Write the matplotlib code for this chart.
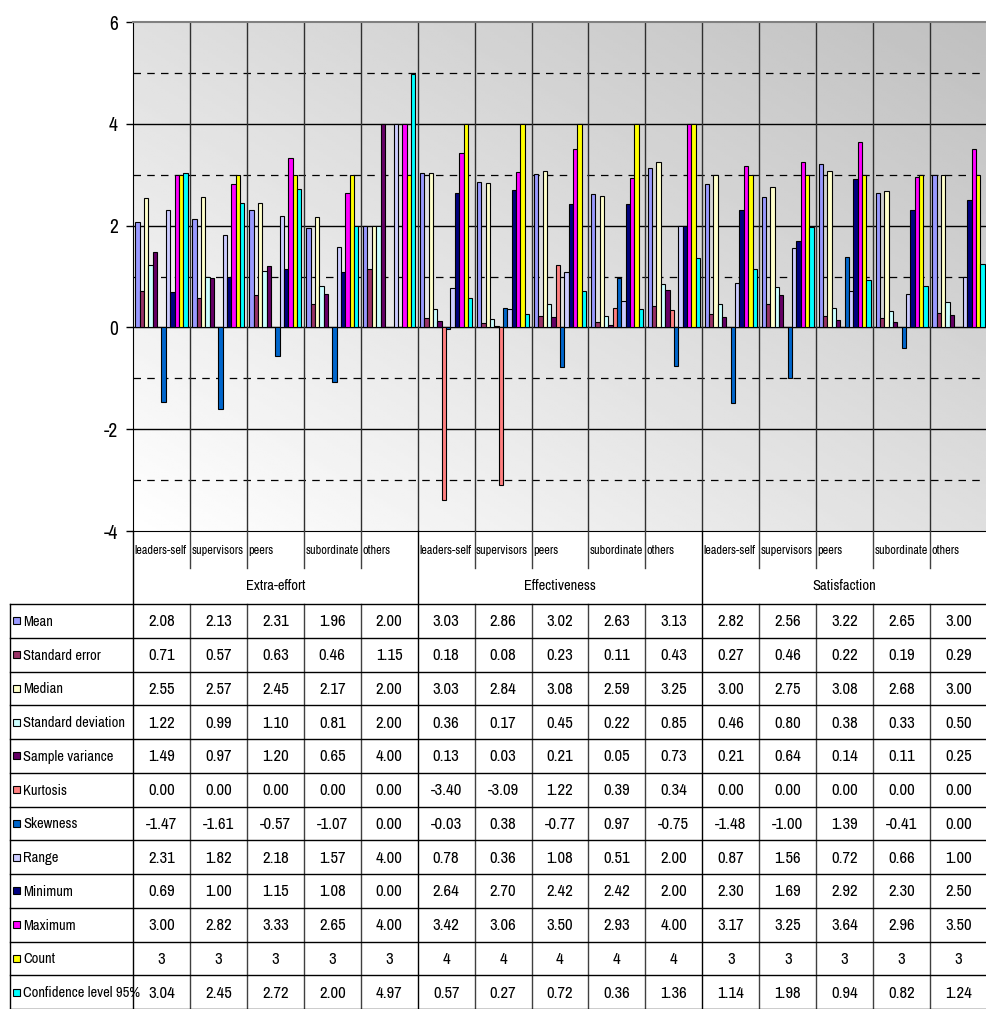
import numpy as np
import matplotlib.pyplot as plt
from matplotlib import font_manager
from matplotlib.patches import Rectangle
from matplotlib.transforms import blended_transform_factory

# Fuente estrecha tipo Arial Narrow si existe
instaladas = set(f.name for f in font_manager.fontManager.ttflist)
escala = 1.0
for fam in ['Liberation Sans Narrow', 'Archivo Narrow', 'Roboto Condensed']:
    if fam in instaladas:
        fuente = fam
        break
else:
    fuente = 'Liberation Sans'
    escala = 0.82
plt.rcParams['font.family'] = [fuente, 'DejaVu Sans']

grupos = ['Extra-effort', 'Effectiveness', 'Satisfaction']
categorias = ['leaders-self', 'supervisors', 'peers', 'subordinate', 'others'] * 3

series = ['Mean', 'Standard error', 'Median', 'Standard deviation', 'Sample variance',
          'Kurtosis', 'Skewness', 'Range', 'Minimum', 'Maximum', 'Count',
          'Confidence level 95%']

mean = [2.08, 2.13, 2.31, 1.96, 2.00, 3.03, 2.86, 3.02, 2.63, 3.13, 2.82, 2.56, 3.22, 2.65, 3.00]
std_error = [0.71, 0.57, 0.63, 0.46, 1.15, 0.18, 0.08, 0.23, 0.11, 0.43, 0.27, 0.46, 0.22, 0.19, 0.29]
median = [2.55, 2.57, 2.45, 2.17, 2.00, 3.03, 2.84, 3.08, 2.59, 3.25, 3.00, 2.75, 3.08, 2.68, 3.00]
std_dev = [1.22, 0.99, 1.10, 0.81, 2.00, 0.36, 0.17, 0.45, 0.22, 0.85, 0.46, 0.80, 0.38, 0.33, 0.50]
variance = [1.49, 0.97, 1.20, 0.65, 4.00, 0.13, 0.03, 0.21, 0.05, 0.73, 0.21, 0.64, 0.14, 0.11, 0.25]
kurtosis = [0.00, 0.00, 0.00, 0.00, 0.00, -3.40, -3.09, 1.22, 0.39, 0.34, 0.00, 0.00, 0.00, 0.00, 0.00]
skewness = [-1.47, -1.61, -0.57, -1.07, 0.00, -0.03, 0.38, -0.77, 0.97, -0.75, -1.48, -1.00, 1.39, -0.41, 0.00]
rango = [2.31, 1.82, 2.18, 1.57, 4.00, 0.78, 0.36, 1.08, 0.51, 2.00, 0.87, 1.56, 0.72, 0.66, 1.00]
minimum = [0.69, 1.00, 1.15, 1.08, 0.00, 2.64, 2.70, 2.42, 2.42, 2.00, 2.30, 1.69, 2.92, 2.30, 2.50]
maximum = [3.00, 2.82, 3.33, 2.65, 4.00, 3.42, 3.06, 3.50, 2.93, 4.00, 3.17, 3.25, 3.64, 2.96, 3.50]
count = [3, 3, 3, 3, 3, 4, 4, 4, 4, 4, 3, 3, 3, 3, 3]
conf95 = [3.04, 2.45, 2.72, 2.00, 4.97, 0.57, 0.27, 0.72, 0.36, 1.36, 1.14, 1.98, 0.94, 0.82, 1.24]

valores = [mean, std_error, median, std_dev, variance, kurtosis, skewness,
           rango, minimum, maximum, count, conf95]

colores = ['#9999FF', '#993366', '#FFFFCC', '#CCFFFF', '#660066', '#FF8080',
           '#0066CC', '#CCCCFF', '#000080', '#FF00FF', '#FFFF00', '#00FFFF']

W, H = 987, 1009
fig = plt.figure(figsize=(W / 100, H / 100), dpi=100)
fig.patch.set_facecolor('white')

# Area del grafico (en pixeles de la imagen)
left, right, top, bottom = 133, 987, 22, 531
ax = fig.add_axes([left / W, 1 - bottom / H, (right - left) / W, (bottom - top) / H])

ncat = len(categorias)
ax.set_xlim(0, ncat)
ax.set_ylim(-4, 6)

# Fondo degradado gris
gx, gy = np.meshgrid(np.linspace(0, 1, 200), np.linspace(0, 1, 200))
grad = 1 - 0.25 * (gx + gy) / 2
ax.imshow(grad, extent=[0, ncat, -4, 6], origin='lower', aspect='auto',
          cmap='gray', vmin=0, vmax=1, zorder=0)

# Lineas de la cuadricula
for y in [-2, 0, 2, 4]:
    ax.axhline(y, color='black', lw=1, zorder=1)
for y in [-3, -1, 1, 3, 5]:
    ax.axhline(y, color='black', lw=0.9, dashes=(6, 5), zorder=1)
for i in range(1, ncat):
    ax.axvline(i, color='#303030', lw=1, zorder=1)

# Barras
x = np.arange(ncat)
margen = 0.042
ancho = (1 - 2 * margen) / len(series)
for j, (nombre, vals, col) in enumerate(zip(series, valores, colores)):
    ax.bar(x + margen + (j + 0.5) * ancho, vals, width=ancho, color=col,
           edgecolor='black', linewidth=0.8, label=nombre, zorder=3)

ax.set_xticks([])
ax.set_yticks([-4, -2, 0, 2, 4, 6])
ax.set_yticklabels(['-4', '-2', '0', '2', '4', '6'])
ax.tick_params(axis='y', length=5, width=1, pad=6, labelsize=14 * escala)
ax.spines['right'].set_visible(False)
ax.spines['top'].set_color('#808080')
ax.spines['top'].set_linewidth(1.5)

# Tabla de datos bajo el grafico
tab = fig.add_axes([0, 0, 1, 1], facecolor='none')
tab.set_xlim(0, W)
tab.set_ylim(H, 0)
tab.axis('off')
tr = blended_transform_factory(ax.transData, tab.transData)

fila0 = 604
alto = (H - fila0) / len(series)

# Cabecera: categorias y grupos
for i, cat in enumerate(categorias):
    tab.text(i + 0.025, 550, cat, transform=tr, fontsize=8.8 * escala, ha='left', va='center')
for i in range(ncat + 1):
    if i % 5 == 0:
        tab.plot([i, i], [bottom, H], color='black', lw=1, transform=tr)
    else:
        tab.plot([i, i], [bottom, 568], color='#404040', lw=1, transform=tr)
        tab.plot([i, i], [fila0, H], color='#404040', lw=1, transform=tr)
for g, nombre in enumerate(grupos):
    tab.text(g * 5 + 2.5, 586, nombre, transform=tr, fontsize=10.5 * escala, ha='center', va='center')

# Filas de la tabla
tab.plot([10, W], [fila0, fila0], color='black', lw=1)
tab.plot([10, 10], [fila0, H], color='black', lw=1)
for j, (nombre, vals, col) in enumerate(zip(series, valores, colores)):
    yc = fila0 + (j + 0.5) * alto
    tab.plot([10, W], [fila0 + (j + 1) * alto] * 2, color='black', lw=1)
    tab.add_patch(Rectangle((13, yc - 3.5), 7, 7, facecolor=col, edgecolor='black', lw=0.8))
    tab.text(23, yc + 1, nombre, fontsize=10.5 * escala, ha='left', va='center')
    for i, v in enumerate(vals):
        txt = str(v) if nombre == 'Count' else f'{v:.2f}'
        tab.text(i + 0.5, yc + 1, txt, transform=tr, fontsize=12 * escala, ha='center', va='center')

plt.savefig('out.png', dpi=100)
